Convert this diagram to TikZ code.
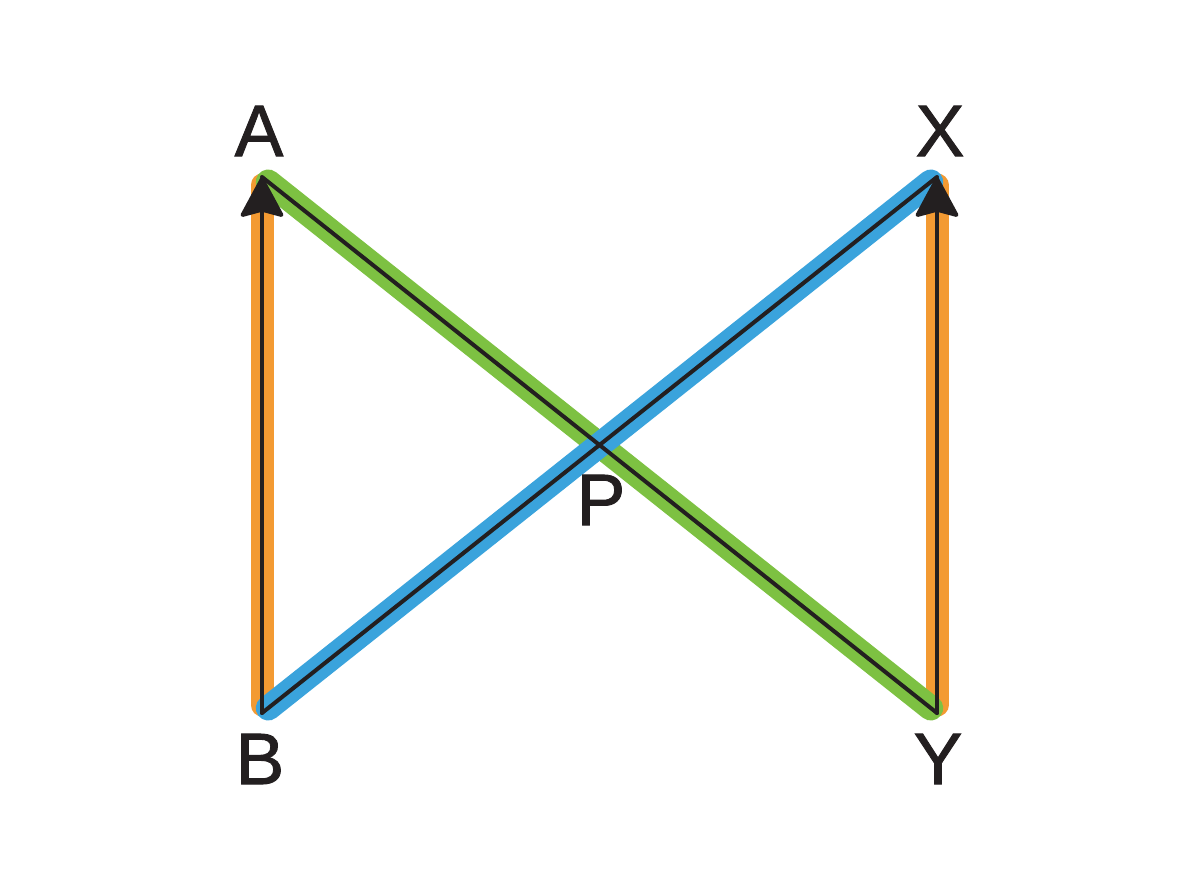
\documentclass[tikz,border=0pt]{standalone}
\usepackage{fontspec}
\setmainfont{Liberation Sans}
\newfontfamily\lblfont[FakeBold=1.2]{Liberation Sans}
\usetikzlibrary{arrows.meta}
\definecolor{bandorange}{HTML}{F39A32}
\definecolor{bandgreen}{HTML}{7DC142}
\definecolor{bandblue}{HTML}{3AA3DC}
\definecolor{ink}{HTML}{231F20}
\tikzset{
  band/.style={line width=23pt, line cap=round, shorten <=8pt, shorten >=8pt},
  diagband/.style={band, line width=25pt, yshift=-2pt},
  thin/.style={draw=ink, line width=4pt, line cap=round},
  ray/.style={thin, -{Stealth[length=43pt, width=46pt, inset=6pt, round=false]}},
  lbl/.style={inner sep=0pt, text=ink, font=\lblfont\fontsize{73}{73}\selectfont}
}
\begin{document}
\begin{tikzpicture}[x=1pt, y=-1pt]
\useasboundingbox (0,0) rectangle (1200,896);
\fill[white] (0,0) rectangle (1200,896);
\coordinate (A) at (262,177);
\coordinate (B) at (262,713);
\coordinate (X) at (937,177);
\coordinate (Y) at (937,713);
% coloured bands
\draw[band, draw=bandorange] (B) -- (A);
\draw[band, draw=bandorange] (Y) -- (X);
\draw[diagband, draw=bandgreen] (A) -- (Y);
\draw[diagband, draw=bandblue] (B) -- (X);
% black lines
\draw[thin] (A) -- (Y);
\draw[thin] (B) -- (X);
\draw[ray] (B) -- (A);
\draw[ray] (Y) -- (X);
% labels
\node[lbl] (la) at (259,131) {A};
\node[lbl] (lx) at (940,131) {X};
\node[lbl] (lb) at (260,759) {B};
\node[lbl] (ly) at (938,759) {Y};
\node[lbl] (lp) at (601,500) {P};
\end{tikzpicture}
\end{document}
